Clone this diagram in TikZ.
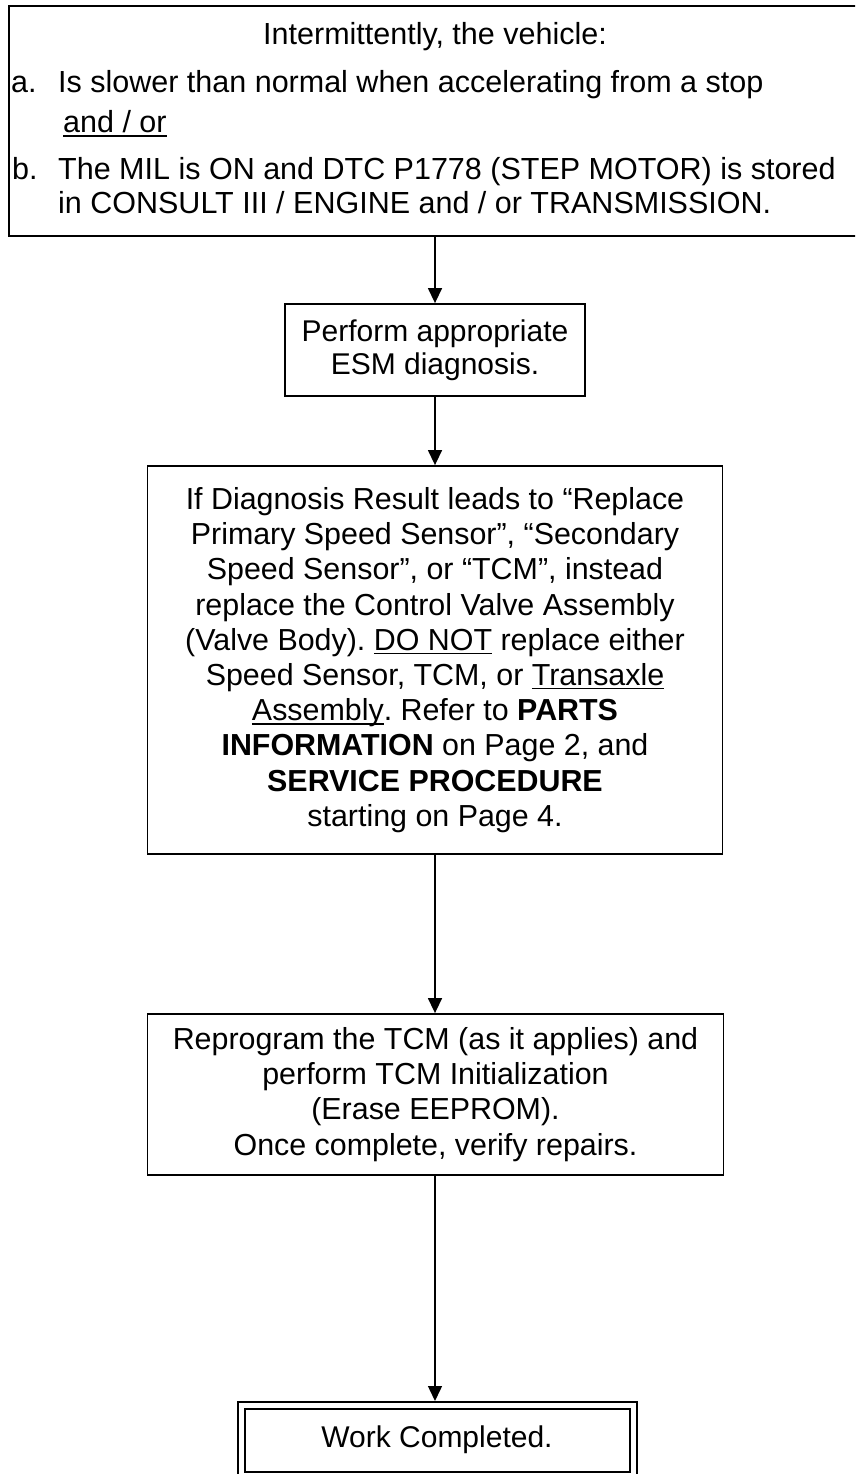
\documentclass[tikz,border=0pt]{standalone}
\usepackage{fontspec}
\setmainfont{Liberation Sans}
\usetikzlibrary{arrows.meta}
\newsavebox\ulbox
\newcommand\myul[1]{\sbox\ulbox{#1}\rlap{\rule[-4pt]{\wd\ulbox}{1.5pt}}\usebox\ulbox}
\frenchspacing
\tikzset{
  boxs/.style={draw, line width=1.8pt, inner sep=0pt, align=center, outer sep=0.9pt},
  arr/.style={-{Triangle[width=14pt,length=15pt]}, line width=1.4pt},
  topfont/.style={font={\fontsize{30.5pt}{35pt}\selectfont}},
  midfont/.style={font={\fontsize{30.4pt}{35.2pt}\selectfont}},
  bigfont/.style={font={\fontsize{30pt}{33pt}\selectfont}},
}
\begin{document}
\begin{tikzpicture}[x=1pt,y=-1pt]
\useasboundingbox (0,0) rectangle (855,1474);
\fill[white] (0,0) rectangle (855,1474);
\clip (0,0) rectangle (855,1474);

% top box
\node[boxs, minimum width=849pt, minimum height=230pt] (box1) at (433.5,121) {};
\node[topfont, anchor=base] (t0) at (435,45) {Intermittently, the vehicle:};
\node[topfont, anchor=base west, inner sep=0pt] (la) at (11,93) {a.};
\node[topfont, anchor=base west, inner sep=0pt] (ta) at (58,93) {Is slower than normal when accelerating from a stop};
\node[topfont, anchor=base west, inner sep=0pt] (tor) at (63,133) {\myul{and / or}};
\node[topfont, anchor=base west, inner sep=0pt] (lb) at (12,179) {b.};
\node[topfont, anchor=base west, inner sep=0pt] (tb) at (58,179) {The MIL is ON and DTC P1778 (STEP MOTOR) is stored};
\node[topfont, anchor=base west, inner sep=0pt] (tc) at (58,213) {in CONSULT III / ENGINE and / or TRANSMISSION.};

% box 2
\node[boxs, bigfont, minimum width=300pt, minimum height=92pt] (box2) at (435,350)
  {Perform appropriate\\ESM diagnosis.};

% box 3
\node[boxs, midfont, minimum width=575pt, minimum height=388pt] (box3) at (435,660)
  {If Diagnosis Result leads to “Replace\\
   Primary Speed Sensor”, “Secondary\\
   Speed Sensor”, or “TCM”, instead\\
   replace the Control Valve Assembly\\
   (Valve Body). \myul{DO NOT} replace either\\
   Speed Sensor, TCM, or \myul{Transaxle}\\
   \myul{Assembly}. Refer to \textbf{PARTS}\\
   \textbf{INFORMATION} on Page 2, and\\
   \textbf{SERVICE PROCEDURE}\\
   starting on Page 4.};

% box 4
\node[boxs, midfont, minimum width=576pt, minimum height=161pt] (box4) at (435.5,1094.5)
  {Reprogram the TCM (as it applies) and\\
   perform TCM Initialization\\
   (Erase EEPROM).\\
   Once complete, verify repairs.};

% box 5 (double border)
\node[draw, line width=2pt, double, double distance=5pt, inner sep=0pt, outer sep=4.5pt,
      minimum width=392pt, minimum height=70pt] (box5) at (437,1440.5) {};
\node[bigfont, anchor=base] (t5) at (437,1447) {Work Completed.};

% connectors
\draw[arr] (box1.south -| box2.north) -- (box2.north);
\draw[arr] (box2.south) -- (box2.south |- box3.north);
\draw[arr] (box3.south -| box2.south) -- (box2.south |- box4.north);
\draw[arr] (box4.south -| box2.south) -- (box2.south |- box5.north);
\end{tikzpicture}
\end{document}
